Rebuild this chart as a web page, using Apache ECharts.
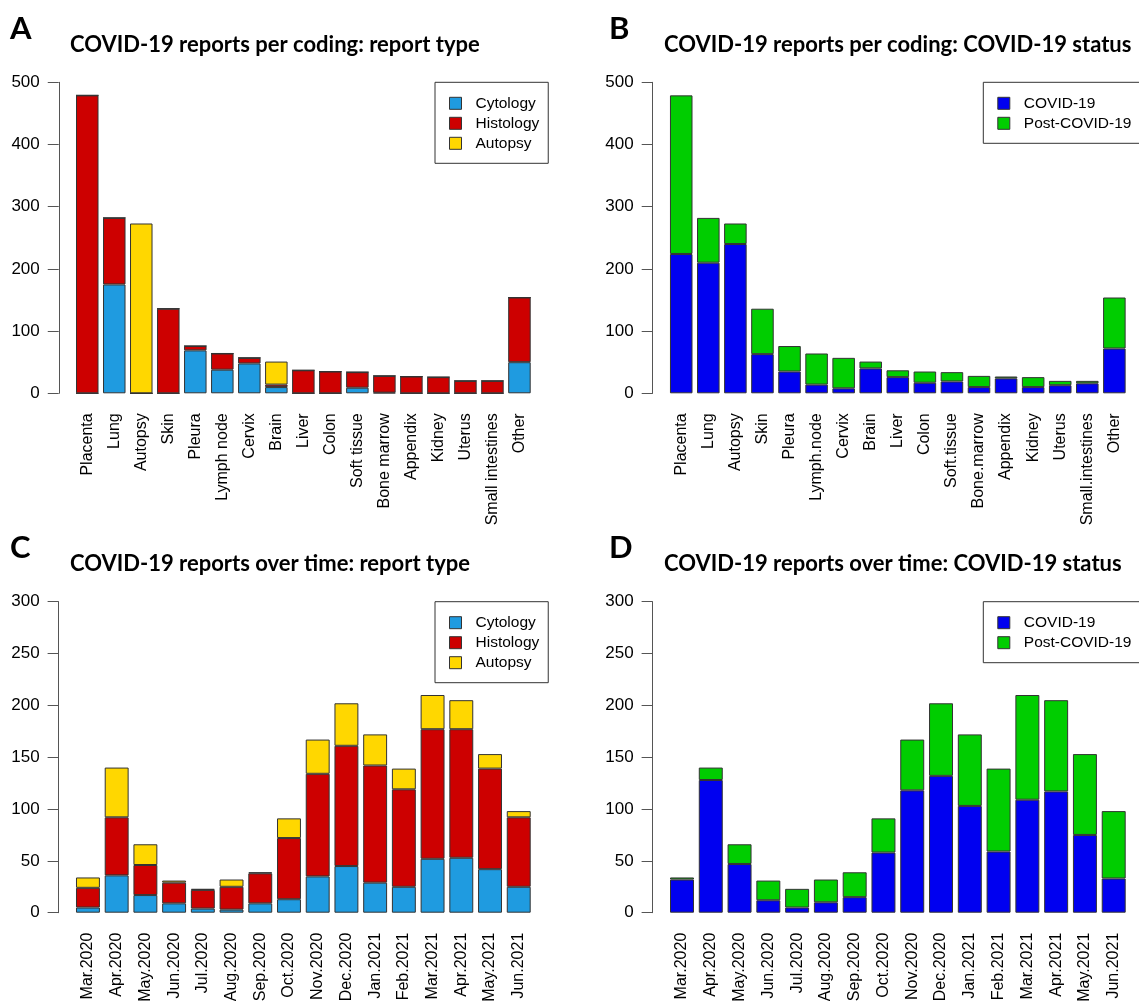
<!DOCTYPE html>
<html>
<head>
<meta charset="utf-8">
<title>COVID-19 reports</title>
<script src="https://cdn.jsdelivr.net/npm/echarts@6.0.0/dist/echarts.min.js"></script>
<style>
  html, body { margin: 0; padding: 0; background: #fff; }
  #chart { width: 1139px; height: 1001px; }
</style>
</head>
<body>
<div id="chart"></div>
<script>
// categories
const organs = ['Placenta', 'Lung', 'Autopsy', 'Skin', 'Pleura', 'Lymph node', 'Cervix', 'Brain', 'Liver',
  'Colon', 'Soft tissue', 'Bone marrow', 'Appendix', 'Kidney', 'Uterus', 'Small intestines', 'Other'];
const organsDotted = ['Placenta', 'Lung', 'Autopsy', 'Skin', 'Pleura', 'Lymph.node', 'Cervix', 'Brain', 'Liver',
  'Colon', 'Soft.tissue', 'Bone.marrow', 'Appendix', 'Kidney', 'Uterus', 'Small.intestines', 'Other'];
const months = ['Mar.2020', 'Apr.2020', 'May.2020', 'Jun.2020', 'Jul.2020', 'Aug.2020', 'Sep.2020', 'Oct.2020',
  'Nov.2020', 'Dec.2020', 'Jan.2021', 'Feb.2021', 'Mar.2021', 'Apr.2021', 'May.2021', 'Jun.2021'];

// A: report type per coding
const cytoByOrgan = [0, 175, 0, 0, 69, 38, 48, 10, 0, 0, 9, 1, 0, 0, 0, 0, 50];
const histoByOrgan = [479, 107, 0, 136, 7, 26, 9, 4, 37, 35, 25, 27, 27, 26, 20, 20, 104];
const autopsyByOrgan = [0, 0, 273, 0, 0, 0, 0, 37, 0, 0, 0, 0, 0, 0, 0, 0, 0];

// B: covid status per coding
const covidByOrgan = [224, 210, 240, 63, 35, 14, 8, 40, 26, 17, 19, 10, 24, 10, 13, 16, 72];
const postByOrgan = [255, 72, 33, 73, 41, 50, 49, 11, 11, 18, 15, 18, 3, 16, 7, 4, 82];

// C: report type over time
const cytoByMonth = [5, 36, 17, 9, 4, 3, 9, 13, 35, 45, 29, 25, 52, 53, 42, 25];
const histoByMonth = [19, 56, 29, 20, 18, 22, 29, 59, 99, 116, 113, 94, 125, 124, 97, 67];
const autopsyByMonth = [10, 48, 20, 2, 1, 7, 1, 19, 33, 41, 30, 20, 33, 28, 14, 6];

// D: covid status over time
const covidByMonth = [32, 128, 47, 12, 5, 10, 15, 58, 118, 132, 103, 59, 109, 117, 75, 33];
const postByMonth = [2, 12, 19, 19, 18, 22, 24, 33, 49, 70, 69, 80, 101, 88, 78, 65];

const yTicksTop = { max: 500, interval: 100 };
const yTicksBottom = { max: 300, interval: 50 };

const COLORS = {
  Cytology: '#1f9be0',
  Histology: '#cd0000',
  Autopsy: '#ffd700',
  'COVID-19': '#0000f0',
  'Post-COVID-19': '#00cd00'
};
const FONT = '"Liberation Sans", Arial, sans-serif';
const TITLE_FONT = 'Lato, "Open Sans", sans-serif';

// fixed plot boxes; labels may run off the canvas like in the original
const grids = [
  { left: 73.75, top: 82.3, width: 459.2, height: 311 },
  { left: 667.7, top: 82.3, width: 460.2, height: 311 },
  { left: 73.6, top: 601.7, width: 459.5, height: 311 },
  { left: 667.6, top: 601.7, width: 460.5, height: 311 }
].map((g) => ({ ...g, containLabel: false, outerBoundsMode: 'none' }));

const xAxisFor = (gridIndex, data) => ({
  type: 'category',
  gridIndex,
  data,
  axisLine: { show: false },
  axisTick: { show: false },
  axisLabel: { rotate: 90, interval: 0, margin: 20, color: '#000', fontSize: 16, fontFamily: FONT }
});

const yAxisFor = (gridIndex, ticks) => ({
  type: 'value',
  gridIndex,
  min: 0,
  max: ticks.max,
  interval: ticks.interval,
  offset: 15,
  axisLine: { show: true, lineStyle: { color: '#555', width: 1 } },
  axisTick: { show: true, length: 11, lineStyle: { color: '#555' } },
  axisLabel: { color: '#000', fontSize: 17, fontFamily: FONT, margin: 19 },
  splitLine: { show: false }
});

const barSeries = (name, data, idx) => ({
  name,
  type: 'bar',
  stack: 'panel' + idx,
  xAxisIndex: idx,
  yAxisIndex: idx,
  barWidth: '83.3%',
  data,
  itemStyle: { color: COLORS[name], borderColor: '#333', borderWidth: 1 },
  emphasis: { disabled: true }
});

const legendFor = (names, left, top) => ({
  orient: 'vertical',
  left,
  top,
  data: names,
  icon: 'rect',
  itemWidth: 12,
  itemHeight: 12,
  itemGap: 4,
  padding: [13, 9, 12, 14],
  borderColor: '#333',
  borderWidth: 1,
  selectedMode: false,
  itemStyle: { borderColor: '#333', borderWidth: 1 },
  textStyle: { color: '#000', fontSize: 15.5, fontFamily: FONT, lineHeight: 15, padding: [0, 0, 0, 9] }
});

const label = (text, x, y, size) => ({
  type: 'text',
  x,
  y,
  style: { text, fill: '#000', font: `bold ${size}px ${TITLE_FONT}`, verticalAlign: 'middle' }
});

const chart = echarts.init(document.getElementById('chart'), null, { renderer: 'canvas' });

chart.setOption({
  animation: false,
  backgroundColor: '#fff',
  grid: grids,
  xAxis: [
    xAxisFor(0, organs),
    xAxisFor(1, organsDotted),
    xAxisFor(2, months),
    xAxisFor(3, months)
  ],
  yAxis: [
    yAxisFor(0, yTicksTop),
    yAxisFor(1, yTicksTop),
    yAxisFor(2, yTicksBottom),
    yAxisFor(3, yTicksBottom)
  ],
  legend: [
    legendFor(['Cytology', 'Histology', 'Autopsy'], 435, 82.3),
    legendFor(['COVID-19', 'Post-COVID-19'], 983.3, 82.3),
    legendFor(['Cytology', 'Histology', 'Autopsy'], 435, 601.7),
    legendFor(['COVID-19', 'Post-COVID-19'], 983.3, 601.7)
  ],
  series: [
    barSeries('Cytology', cytoByOrgan, 0),
    barSeries('Histology', histoByOrgan, 0),
    barSeries('Autopsy', autopsyByOrgan, 0),
    barSeries('COVID-19', covidByOrgan, 1),
    barSeries('Post-COVID-19', postByOrgan, 1),
    barSeries('Cytology', cytoByMonth, 2),
    barSeries('Histology', histoByMonth, 2),
    barSeries('Autopsy', autopsyByMonth, 2),
    barSeries('COVID-19', covidByMonth, 3),
    barSeries('Post-COVID-19', postByMonth, 3)
  ],
  graphic: [
    label('A', 10, 29, 31),
    label('B', 609, 29, 31),
    label('C', 10, 548, 31),
    label('D', 609, 548, 31),
    label('COVID-19 reports per coding: report type', 70, 45, 22),
    label('COVID-19 reports per coding: COVID-19 status', 664, 45, 22),
    label('COVID-19 reports over time: report type', 70, 564, 22),
    label('COVID-19 reports over time: COVID-19 status', 664, 564, 22)
  ]
});
</script>
</body>
</html>
